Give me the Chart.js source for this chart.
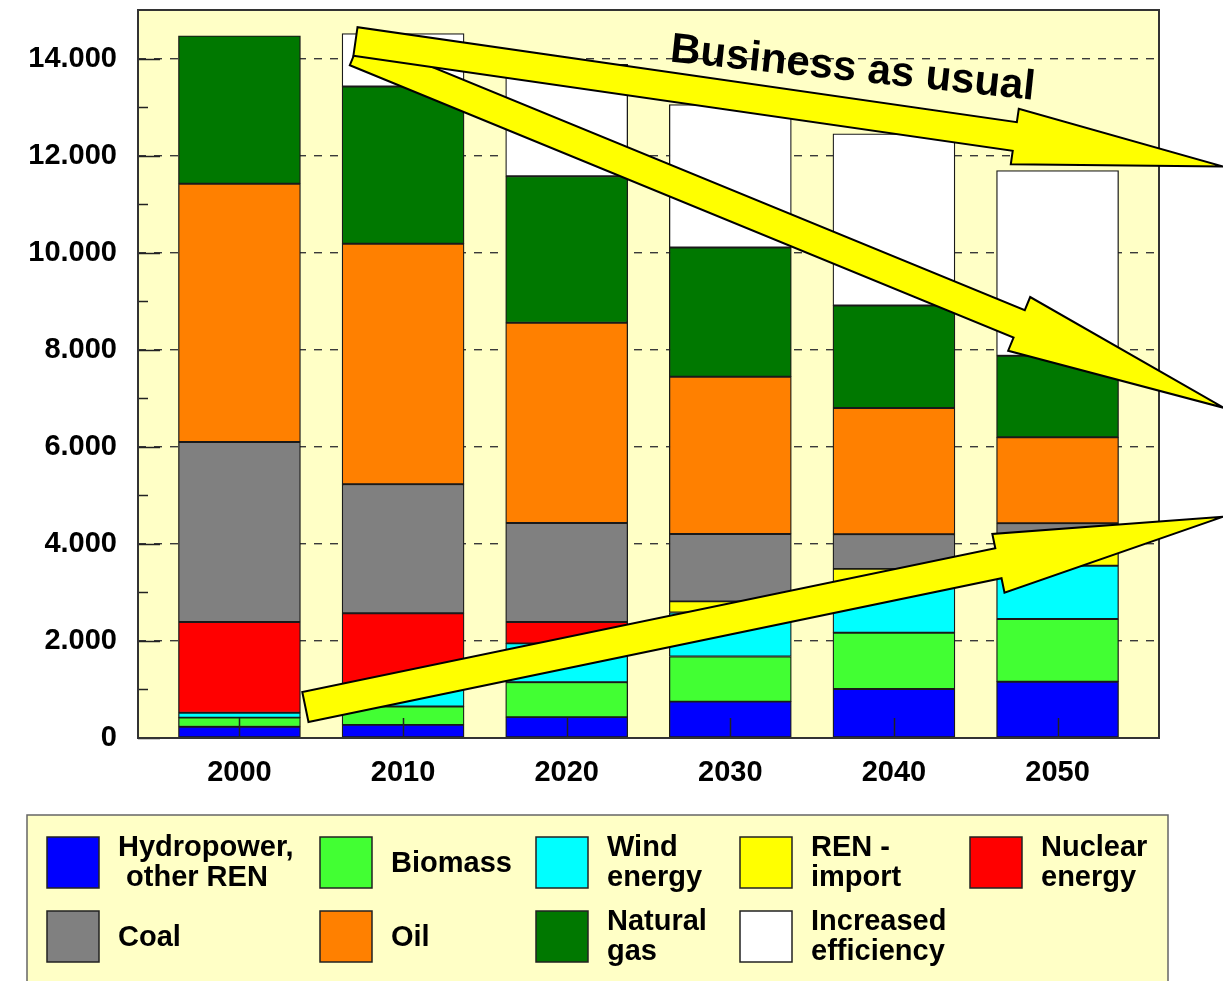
<!DOCTYPE html>
<html>
<head>
<meta charset="utf-8">
<title>Primary energy scenario</title>
<script src="https://cdn.jsdelivr.net/npm/chart.js@4.4.1/dist/chart.umd.min.js"></script>
<style>
  html, body { margin: 0; padding: 0; background: #fff; }
  #wrap { position: absolute; left: 0; top: 0; width: 1223px; height: 981px; }
</style>
</head>
<body>
<div id="wrap"><canvas id="energyChart" width="1223" height="981"></canvas></div>
<script>
// Years on the x axis
const years = [2000, 2010, 2020, 2030, 2040, 2050];

// Stacked series, bottom to top
const hydro      = [230, 270, 430, 750, 1010, 1160];
const biomass    = [190, 380, 720, 930, 1160, 1290];
const wind       = [100, 350, 800, 905, 990, 1100];
const renImport  = [0, 0, 0, 230, 325, 630];
const nuclear    = [1870, 1570, 440, 0, 0, 0];
const coal       = [3710, 2660, 2040, 1390, 715, 245];
const oil        = [5320, 4955, 4125, 3240, 2600, 1770];
const gas        = [3050, 3240, 3020, 2660, 2110, 1680];
const efficiency = [0, 1090, 2305, 2945, 3540, 3815];

const yTicks = [0, 2000, 4000, 6000, 8000, 10000, 12000, 14000];

const seriesLabels = [
  ['Hydropower,', ' other REN'], ['Biomass'], ['Wind', 'energy'], ['REN -', 'import'], ['Nuclear', 'energy'],
  ['Coal'], ['Oil'], ['Natural', 'gas'], ['Increased', 'efficiency']
];
const seriesValues = [hydro, biomass, wind, renImport, nuclear, coal, oil, gas, efficiency];
const seriesColors = ['#0000FF', '#42FF33', '#00FFFF', '#FFFF00', '#FF0000', '#808080', '#FF8000', '#007800', '#FFFFFF'];

// Trend arrows, given as [year, value] at tail and tip
const arrows = [
  { from: [2007.09, 14144], to: [2060.15, 6804],  head: 221, headHalf: 29, shaftHalf: 14.8 },
  { from: [2007.09, 14351], to: [2060.15, 11773], head: 211, headHalf: 28, shaftHalf: 14.5 },
  { from: [2004.03, 639],   to: [2060.09, 4557],  head: 229, headHalf: 30, shaftHalf: 15.3 }
];
const arrowLabel = { text: 'Business as usual', at: [2037.4, 13546], angle: 6 };

const FONT = '"Liberation Sans", Arial, Helvetica, sans-serif';
const PLOT_BG = '#FFFFC6';

function fmtThousands(v) {
  return String(v).replace(/\B(?=(\d{3})+(?!\d))/g, '.');
}

const datasets = seriesValues.map((vals, i) => ({
  label: seriesLabels[i].join(' ').trim(),
  data: years.map((yr, j) => ({ x: yr, y: vals[j] })),
  backgroundColor: seriesColors[i],
  borderColor: '#1a1a1a',
  borderWidth: 1.3,
  borderSkipped: false,
  barThickness: 122
}));

function drawArrow(ctx, p0, p1, a) {
  const dx = p1.x - p0.x, dy = p1.y - p0.y;
  const len = Math.hypot(dx, dy);
  const ux = dx / len, uy = dy / len;
  const nx = -uy, ny = ux;
  const bx = p1.x - ux * a.head, by = p1.y - uy * a.head;
  ctx.beginPath();
  ctx.moveTo(p0.x + nx * a.shaftHalf, p0.y + ny * a.shaftHalf);
  ctx.lineTo(bx + nx * a.shaftHalf, by + ny * a.shaftHalf);
  ctx.lineTo(bx + nx * a.headHalf, by + ny * a.headHalf);
  ctx.lineTo(p1.x, p1.y);
  ctx.lineTo(bx - nx * a.headHalf, by - ny * a.headHalf);
  ctx.lineTo(bx - nx * a.shaftHalf, by - ny * a.shaftHalf);
  ctx.lineTo(p0.x - nx * a.shaftHalf, p0.y - ny * a.shaftHalf);
  ctx.closePath();
  ctx.fillStyle = '#FFFF00';
  ctx.fill();
  ctx.lineWidth = 2;
  ctx.lineJoin = 'miter';
  ctx.strokeStyle = '#000';
  ctx.stroke();
}

const decorations = {
  id: 'decorations',
  beforeDraw(chart) {
    const { ctx, chartArea: a } = chart;
    ctx.save();
    ctx.fillStyle = PLOT_BG;
    ctx.fillRect(a.left, a.top, a.right - a.left, a.bottom - a.top);
    ctx.restore();
  },
  afterDatasetsDraw(chart) {
    const { ctx, chartArea: a, scales: { x, y } } = chart;
    ctx.save();
    ctx.strokeStyle = '#222';
    ctx.lineWidth = 1.5;
    // y ticks inside the plot: long at labels, short in between
    for (let v = 0; v < y.max; v += 1000) {
      const py = Math.round(y.getPixelForValue(v)) + 0.5;
      const len = v % 2000 === 0 ? 22 : 10;
      ctx.beginPath(); ctx.moveTo(a.left, py); ctx.lineTo(a.left + len, py); ctx.stroke();
    }
    // x ticks at each year, drawn over the bars
    years.forEach(yr => {
      const px = Math.round(x.getPixelForValue(yr)) + 0.5;
      ctx.beginPath(); ctx.moveTo(px, a.bottom); ctx.lineTo(px, a.bottom - 20); ctx.stroke();
    });
    // plot frame
    ctx.strokeStyle = '#333';
    ctx.lineWidth = 2;
    ctx.strokeRect(a.left, a.top, a.right - a.left, a.bottom - a.top);

    // trend arrows
    arrows.forEach(ar => {
      const p0 = { x: x.getPixelForValue(ar.from[0]), y: y.getPixelForValue(ar.from[1]) };
      const p1 = { x: x.getPixelForValue(ar.to[0]), y: y.getPixelForValue(ar.to[1]) };
      drawArrow(ctx, p0, p1, ar);
    });

    // arrow caption
    const lx = x.getPixelForValue(arrowLabel.at[0]);
    const ly = y.getPixelForValue(arrowLabel.at[1]);
    ctx.translate(lx, ly);
    ctx.rotate(arrowLabel.angle * Math.PI / 180);
    ctx.font = 'bold 42px ' + FONT;
    ctx.fillStyle = '#000';
    ctx.textAlign = 'center';
    ctx.textBaseline = 'alphabetic';
    ctx.fillText(arrowLabel.text, 0, 0);
    ctx.restore();
  },
  afterDraw(chart) {
    // legend box below the plot, 5 columns x 2 rows
    const ctx = chart.ctx;
    const colX = [47, 320, 536, 740, 970];
    const rowY = [837, 911];
    ctx.save();
    ctx.fillStyle = PLOT_BG;
    ctx.fillRect(27, 815, 1141, 180);
    ctx.strokeStyle = '#666';
    ctx.lineWidth = 1.5;
    ctx.strokeRect(27, 815, 1141, 180);
    ctx.font = 'bold 29px ' + FONT;
    ctx.textAlign = 'left';
    ctx.textBaseline = 'middle';
    chart.data.datasets.forEach((ds, i) => {
      const cx = colX[i % 5], cy = rowY[Math.floor(i / 5)];
      ctx.fillStyle = ds.backgroundColor;
      ctx.fillRect(cx, cy, 52, 51);
      ctx.strokeStyle = '#222';
      ctx.lineWidth = 1.5;
      ctx.strokeRect(cx, cy, 52, 51);
      const lines = seriesLabels[i];
      const mid = cy + 25.5;
      ctx.fillStyle = '#000';
      lines.forEach((t, k) => {
        const ty = lines.length === 1 ? mid + 1 : mid - 15 + k * 30;
        ctx.fillText(t, cx + 71, ty);
      });
    });
    ctx.restore();
  }
};

const config = {
  type: 'bar',
  data: { datasets: datasets },
  options: {
    responsive: false,
    animation: false,
    layout: { padding: { left: 0, top: 10, right: 64, bottom: 0 } },
    plugins: {
      legend: { display: false },
      tooltip: { enabled: false }
    },
    scales: {
      x: {
        type: 'linear',
        stacked: true,
        offset: false,
        min: 1993.8,
        max: 2056.2,
        grid: { display: false, offset: false },
        border: { display: false },
        afterBuildTicks: s => { s.ticks = years.map(v => ({ value: v })); },
        afterFit: s => { s.height = 243; s.paddingLeft = 0; s.paddingRight = 0; },
        ticks: {
          padding: 10,
          color: '#000',
          autoSkip: false,
          maxRotation: 0,
          font: { family: FONT, size: 29, weight: 'bold' },
          callback: v => String(v)
        }
      },
      y: {
        stacked: true,
        min: 0,
        max: 15000,
        afterBuildTicks: s => { s.ticks = yTicks.map(v => ({ value: v })); },
        afterFit: s => { s.width = 138; s.paddingTop = 0; s.paddingBottom = 0; },
        grid: { color: '#3a3a3a', lineWidth: 1.4, drawTicks: false },
        border: { display: false, dash: [8, 8] },
        ticks: {
          padding: 21,
          color: '#000',
          font: { family: FONT, size: 29, weight: 'bold' },
          callback: v => fmtThousands(v)
        }
      }
    }
  },
  plugins: [decorations]
};

const energyChart = new Chart(document.getElementById('energyChart'), config);
</script>
</body>
</html>
